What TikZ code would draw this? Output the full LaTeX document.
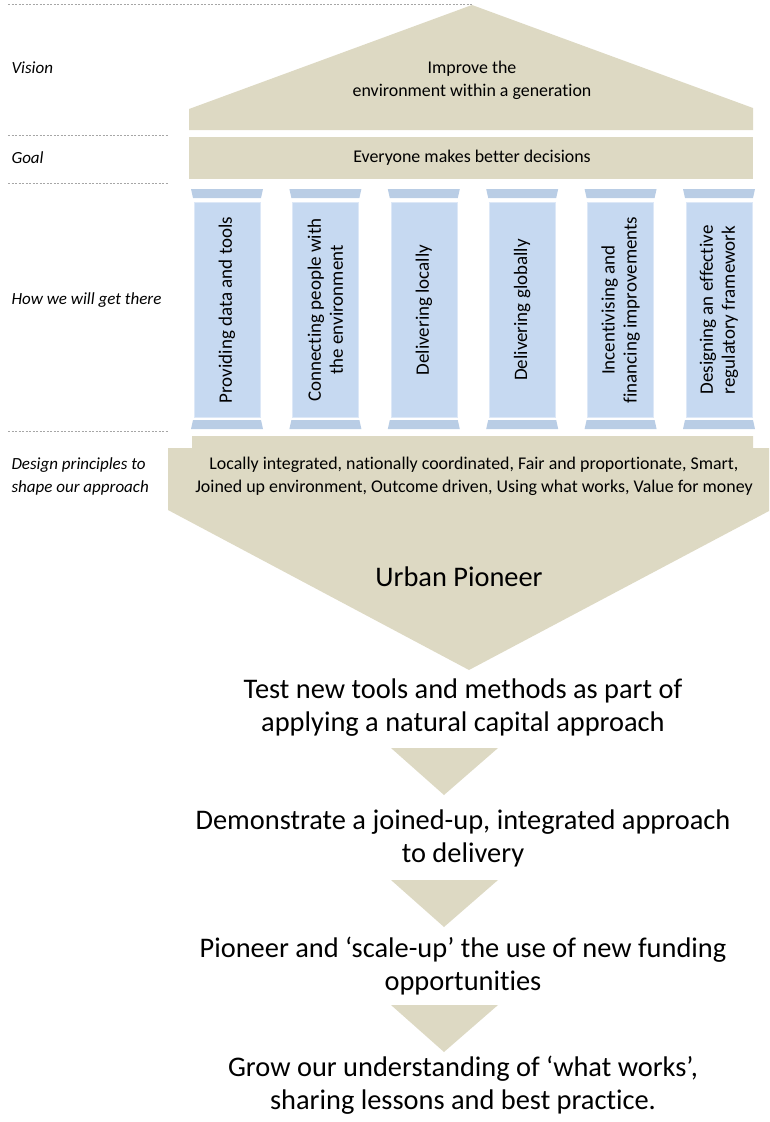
\documentclass[tikz,border=0pt]{standalone}
\usepackage{fontspec}
\setmainfont{Carlito}[Ligatures=CommonOff]
\usepackage{tikz}
\definecolor{tan}{HTML}{DDD9C3}
\definecolor{shaft}{HTML}{C6D9F1}
\definecolor{capital}{HTML}{B9CDE5}
\definecolor{rule}{HTML}{A6A6A6}

\begin{document}
\begin{tikzpicture}[x=1pt,y=-1pt,
  lbl/.style={anchor=west,font=\fontsize{17}{23}\selectfont\itshape,align=left},
  big/.style={font=\fontsize{28.4}{33}\selectfont,align=center},
  small/.style={font=\fontsize{17.9}{23}\selectfont,align=center},
  sep/.style={rule,line width=0.6pt,dash pattern=on 2pt off 1.5pt}]
\useasboundingbox (0,0) rectangle (769,1122);
% row separators
\draw[sep](8,4)--(472,4);
\foreach \y in {135,183,431}
  \draw[sep](8,\y)--(168,\y);
% roof and goal
\fill[tan](189,130)--(189,109)--(472,5)--(753,108)--(753,130)--cycle;
\fill[tan](189,137) rectangle (753,179);
% pillars
\foreach \i/\txt in {0/{Providing data and tools},1/{Connecting people with\\the environment},2/{Delivering locally},3/{Delivering  globally},4/{Incentivising  and\\financing improvements},5/{Designing an effective\\regulatory framework}}{
  \pgfmathsetmacro\xa{191+98.4*\i}
  \fill[capital](\xa,189)--(\xa+72,189)--(\xa+70,198)--(\xa+2,198)--cycle;
  \fill[shaft,draw=shaft!60!white](\xa+3,202) rectangle (\xa+69,417);
  \fill[capital](\xa+2,420)--(\xa+70,420)--(\xa+72,429)--(\xa,429)--cycle;
  \node[rotate=90,font=\fontsize{19}{22}\selectfont,align=center] (p\i) at (\xa+36,310) {\txt};
}
% principles and arrow
\fill[tan](192,436)--(753,436)--(753,448)--(769,448)--(769,511)--(469,670)--(168,510)--(168,448)--(192,448)--cycle;
\foreach \y in {748,880,1005}
  \fill[tan](391,\y)--(498,\y)--(444,\y+47)--cycle;
% texts
\node[lbl] (vis) at (8,68) {Vision};
\node[lbl] (goal) at (8,158) {Goal};
\node[lbl] (how) at (8,300) {How we will get there};
\node[lbl] (des) at (8,476) {Design principles to\\shape our approach};
\node[small] (imp) at (472,80) {Improve the\\environment within a generation};
\node[small] (dec) at (472,158) {Everyone makes better decisions};
\node[small] (prin) at (474,476) {Locally integrated, nationally coordinated, Fair and proportionate, Smart,\\Joined up environment, Outcome driven, Using what works, Value for money};
\node[big] (urb) at (459,577) {Urban Pioneer};
\node[big] (test) at (463,708) {Test new tools and methods as part of\\applying a natural capital approach};
\node[big] (demo) at (463,838) {Demonstrate a joined-up, integrated approach\\to delivery};
\node[big] (fund) at (463,966) {Pioneer and ‘scale-up’ the use of new funding\\opportunities};
\node[big] (grow) at (463,1085) {Grow our understanding of ‘what works’,\\sharing lessons and best practice.};
\end{tikzpicture}
\end{document}
